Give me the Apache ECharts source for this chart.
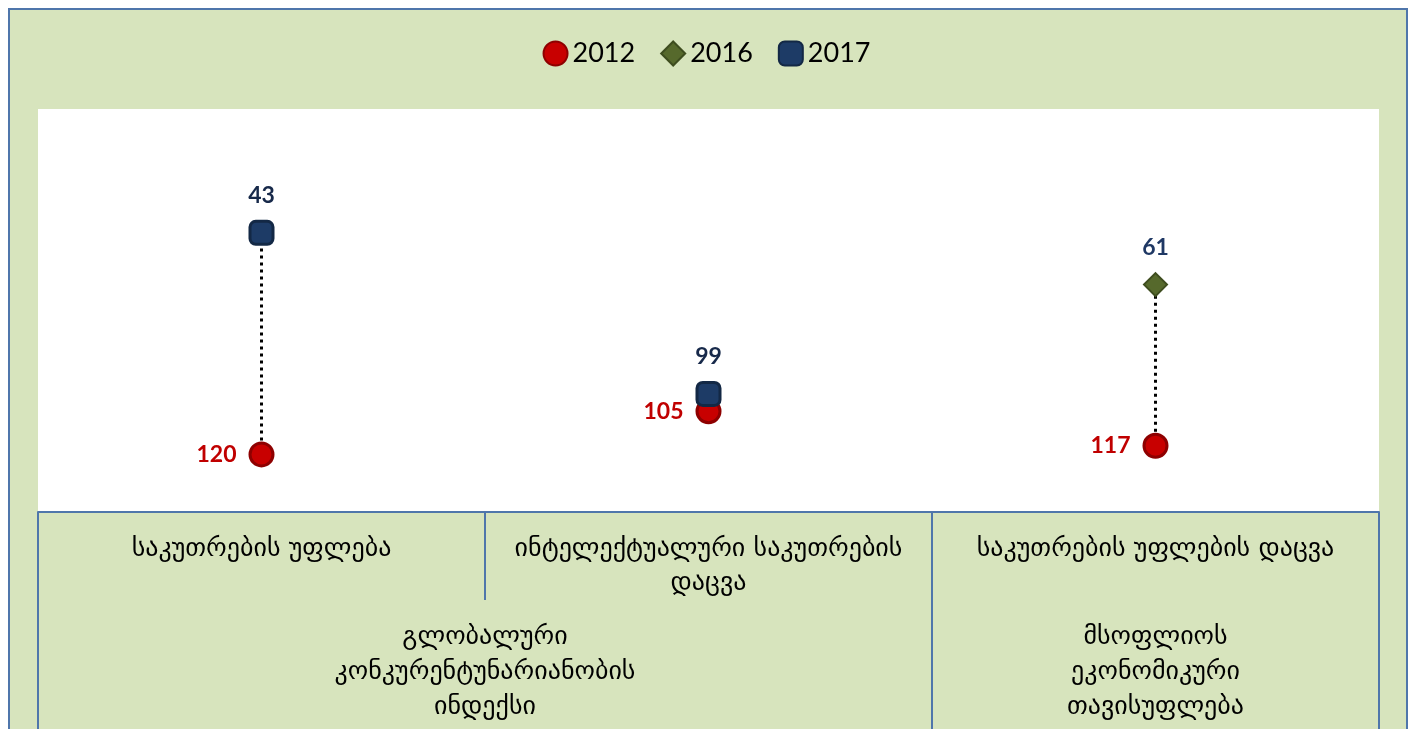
<!DOCTYPE html>
<html>
<head>
<meta charset="utf-8">
<script src="https://cdn.jsdelivr.net/npm/echarts@6/dist/echarts.min.js"></script>
<style>
  html, body { margin: 0; padding: 0; background: #fff; overflow: hidden; }
  #frame {
    position: absolute; left: 8px; top: 8px; width: 1396px; height: 760px;
    border: 2px solid #4f76ab; background: #d7e4bd;
  }
  #chart { position: absolute; left: 0; top: 0; width: 1413px; height: 729px; }
</style>
</head>
<body>
<div id="frame"></div>
<div id="chart"></div>
<script>
// indicators (first level) and index they belong to (second level)
const categories = [
  "საკუთრების უფლება",
  "ინტელექტუალური საკუთრების დაცვა",
  "საკუთრების უფლების დაცვა"
];
const groups = [
  "გლობალური კონკურენტუნარიანობის ინდექსი",
  "მსოფლიოს ეკონომიკური თავისუფლება"
];
// group boundaries / centres in category units
const groupEdges = [0, 2, 3];
const groupCentres = [1, 2.5];

// ranks
const rank2012 = [120, 105, 117];
const rank2016 = [null, null, 61];
const rank2017 = [43, 99, null];

const axisBlue = "#4f76ab";
const labelFont = "Lato";

// greedy word wrap by character count
function wrap(text, maxChars) {
  const lines = [];
  let cur = "";
  text.split(" ").forEach((w) => {
    if (cur && (cur + " " + w).length > maxChars) {
      lines.push(cur);
      cur = w;
    } else {
      cur = cur ? cur + " " + w : w;
    }
  });
  lines.push(cur);
  return lines.join("\n");
}

// dotted connector from 2012 to the latest year available
const connectors = categories.map((c, i) => {
  const latest = rank2017[i] != null ? rank2017[i] : rank2016[i];
  return {
    type: "line",
    silent: true,
    symbol: "none",
    z: 1,
    lineStyle: { color: "#000", width: 3, type: [3, 4] },
    data: [[i, rank2012[i]], [i, latest]]
  };
});

const chart = echarts.init(document.getElementById("chart"));

const option = {
  backgroundColor: "transparent",
  legend: {
    top: 35,
    left: "center",
    itemWidth: 24,
    itemHeight: 24,
    itemGap: 25,
    textStyle: { fontFamily: "Lato", fontSize: 27, color: "#000" },
    data: ["2012", "2016", "2017"]
  },
  grid: {
    left: 38,
    right: 34,
    top: 109,
    bottom: 217,
    show: true,
    backgroundColor: "#fff",
    borderWidth: 0
  },
  xAxis: [
    {
      type: "category",
      data: categories,
      boundaryGap: true,
      axisLine: { show: true, onZero: false, lineStyle: { color: axisBlue, width: 2 } },
      axisTick: { show: true, interval: 0, length: 88, lineStyle: { color: axisBlue, width: 2 } },
      axisLabel: {
        interval: 0,
        margin: 20,
        fontFamily: "DejaVu Sans",
        fontSize: 26,
        lineHeight: 34,
        color: "#000",
        formatter: (v) => wrap(v, 26)
      },
      splitLine: { show: false }
    },
    {
      type: "value",
      min: 0,
      max: 3,
      position: "bottom",
      offset: 88,
      axisLine: { show: false, onZero: false },
      axisTick: {
        show: true,
        customValues: groupEdges,
        length: 140,
        lineStyle: { color: axisBlue, width: 2 }
      },
      axisLabel: {
        customValues: groupCentres,
        margin: 20,
        fontFamily: "DejaVu Sans",
        fontSize: 26,
        lineHeight: 35,
        color: "#000",
        formatter: (v) => groups[groupCentres.indexOf(v)].split(" ").join("\n")
      },
      splitLine: { show: false }
    }
  ],
  yAxis: {
    type: "value",
    inverse: true,
    min: 0,
    max: 140,
    show: false,
    splitLine: { show: false }
  },
  series: [
    ...connectors,
    {
      name: "2012",
      type: "scatter",
      symbol: "circle",
      symbolSize: 23,
      z: 3,
      itemStyle: { color: "#c80000", borderColor: "#8e0000", borderWidth: 3, opacity: 1 },
      label: {
        show: true,
        position: "left",
        distance: 12,
        fontFamily: labelFont,
        fontWeight: "bold",
        fontSize: 23,
        color: "#c00000"
      },
      data: rank2012
    },
    {
      name: "2016",
      type: "scatter",
      symbol: "diamond",
      symbolSize: 23,
      z: 3,
      itemStyle: { color: "#56692c", borderColor: "#3e4d1f", borderWidth: 2, opacity: 1 },
      label: {
        show: true,
        position: "top",
        distance: 13,
        fontFamily: labelFont,
        fontWeight: "bold",
        fontSize: 23,
        color: "#1f3864"
      },
      data: rank2016
    },
    {
      name: "2017",
      type: "scatter",
      symbol: "roundRect",
      symbolSize: 23,
      z: 4,
      itemStyle: { color: "#1d3b66", borderColor: "#132845", borderWidth: 3, opacity: 1 },
      label: {
        show: true,
        position: "top",
        distance: 13,
        fontFamily: labelFont,
        fontWeight: "bold",
        fontSize: 23,
        color: "#17294a"
      },
      data: rank2017
    }
  ]
};

chart.setOption(option);
</script>
</body>
</html>
